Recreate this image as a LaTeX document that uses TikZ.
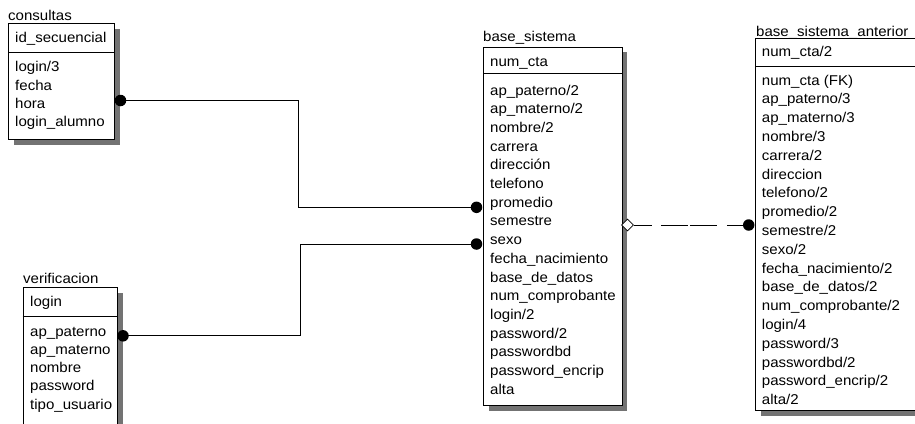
\documentclass[tikz,border=0pt]{standalone}
\usepackage{fontspec}
\setmainfont{Liberation Sans}[FakeStretch=1.06]
\usetikzlibrary{shapes.geometric}
\begin{document}
\begin{tikzpicture}[x=1pt,y=-1pt,
  txt/.style={font=\fontsize{14.2}{16}\selectfont, inner sep=0pt, anchor=base west},
  entity/.style={draw=black, line width=1pt, fill=white, inner sep=0pt, anchor=north west},
  shade/.style={fill=black!55, draw=none, inner sep=0pt, anchor=north west},
  rule/.style={line width=1pt},
  link/.style={line width=1pt},
  enddot/.style={circle, fill=black, inner sep=0pt, minimum size=11.5pt},
  endopen/.style={diamond, draw=black, fill=white, line width=0.8pt, inner sep=0pt,
                  minimum width=12pt, minimum height=12pt}]
\clip (0,0) rectangle (915,423);
\fill[white] (0,0) rectangle (915,423);

% ---- consultas ----
\node[shade, minimum width=105.7pt, minimum height=115.7pt] (cons-sh) at (13.8,28.8) {};
\node[entity, minimum width=105.7pt, minimum height=115.7pt] (cons) at (8.3,23.3) {};
\draw[rule] (cons.west |- 0,52) -- (cons.east |- 0,52);
\node[txt] (cons-t) at (8,20) {consultas};
\node[txt] (cons-k) at (15,42.3) {id\_secuencial};
\foreach \t [count=\i from 0] in {login/3, fecha, hora, login\_alumno}
  \node[txt] (cons-\i) at (15,71.7+18.3*\i) {\t};

% ---- verificacion ----
\node[shade, minimum width=94.6pt, minimum height=160pt] (ver-sh) at (28.2,292.8) {};
\node[entity, minimum width=94.6pt, minimum height=160pt] (ver) at (22.7,287.3) {};
\draw[rule] (ver.west |- 0,316) -- (ver.east |- 0,316);
\node[txt] (ver-t) at (23,283.3) {verificacion};
\node[txt] (ver-k) at (30,306.7) {login};
\foreach \t [count=\i from 0] in {ap\_paterno, ap\_materno, nombre, password, tipo\_usuario}
  \node[txt] (ver-\i) at (30,336+18.3*\i) {\t};

% ---- base_sistema ----
\node[shade, minimum width=138.4pt, minimum height=358.3pt] (bs-sh) at (488.8,52.2) {};
\node[entity, minimum width=138.4pt, minimum height=358.3pt] (bs) at (483.3,46.7) {};
\draw[rule] (bs.west |- 0,73.3) -- (bs.east |- 0,73.3);
\node[txt] (bs-t) at (483,41) {base\_sistema};
\node[txt] (bs-k) at (490,66.7) {num\_cta};
\foreach \t [count=\i from 0] in {ap\_paterno/2, ap\_materno/2, nombre/2, carrera,
    dirección, telefono, promedio, semestre, sexo, fecha\_nacimiento, base\_de\_datos,
    num\_comprobante, login/2, password/2, passwordbd, password\_encrip, alta}
  \node[txt] (bs-\i) at (490,95+18.7*\i) {\t};

% ---- base_sistema_anterior ----
\node[shade, minimum width=200pt, minimum height=371.7pt] (bsa-sh) at (760.5,43.8) {};
\node[entity, minimum width=200pt, minimum height=371.7pt] (bsa) at (755,38.3) {};
\draw[rule] (bsa.west |- 0,66.7) -- (bsa.east |- 0,66.7);
\node[txt] (bsa-t) at (756,36) {base\_sistema\_anterior};
\node[txt] (bsa-k) at (761.7,56.7) {num\_cta/2};
\foreach \t [count=\i from 0] in {num\_cta (FK), ap\_paterno/3, ap\_materno/3, nombre/3,
    carrera/2, direccion, telefono/2, promedio/2, semestre/2, sexo/2,
    fecha\_nacimiento/2, base\_de\_datos/2, num\_comprobante/2, login/4, password/3,
    passwordbd/2, password\_encrip/2, alta/2}
  \node[txt] (bsa-\i) at (761.7,85+18.8*\i) {\t};

% ---- relationship ends ----
\coordinate (e1) at (120.5,100.5);
\coordinate (e2) at (476.5,207.3);
\coordinate (e3) at (123,335.8);
\coordinate (e4) at (476.5,244);
\coordinate (e6) at (748.7,225);

% ---- connectors ----
\draw[link] (e1) -- (298.7,100.5) |- (e2);
\draw[link] (e3) -- (300.7,335.8) |- (e4);
\node[endopen] (e5) at (627.5,225) {};
\draw[link, dash pattern=on 18pt off 9pt on 27pt off 2pt on 27pt off 10pt on 40pt]
  (e5.east) -- (e6);

\node[enddot] (d1) at (e1) {};
\node[enddot] (d2) at (e2) {};
\node[enddot] (d3) at (e3) {};
\node[enddot] (d4) at (e4) {};
\node[enddot] (d6) at (e6) {};
\end{tikzpicture}
\end{document}
